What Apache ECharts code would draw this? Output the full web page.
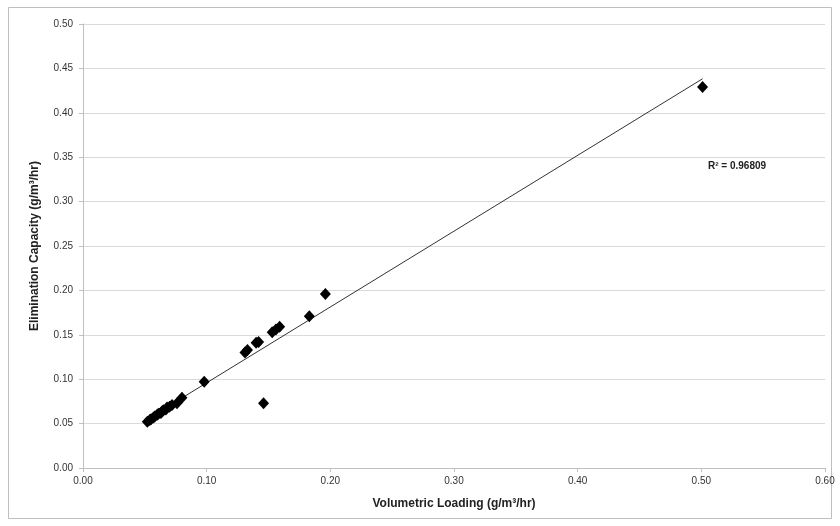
<!DOCTYPE html>
<html>
<head>
<meta charset="utf-8">
<script src="https://cdn.jsdelivr.net/npm/echarts@6/dist/echarts.min.js"></script>
<style>
  html, body { margin: 0; padding: 0; background: #fff; }
  #chart { width: 840px; height: 526px; }
</style>
</head>
<body>
<div id="chart"></div>
<script>
// volumetric loading (x) and elimination capacity (y), g/m3/hr
const loading = [
  0.052, 0.054, 0.055, 0.057, 0.058, 0.060, 0.061, 0.063, 0.064, 0.065,
  0.067, 0.068, 0.070, 0.072, 0.076, 0.080, 0.098, 0.131, 0.133, 0.140,
  0.142, 0.153, 0.156, 0.159, 0.146, 0.183, 0.196, 0.501
]
const capacity = [
  0.052, 0.054, 0.055, 0.057, 0.058, 0.060, 0.061, 0.062, 0.064, 0.065,
  0.066, 0.068, 0.069, 0.071, 0.073, 0.079, 0.097, 0.130, 0.133, 0.141,
  0.142, 0.153, 0.156, 0.159, 0.073, 0.171, 0.196, 0.429
]
const rSquaredText = 'R² = 0.96809'
const xTicks = [0, 0.6, 0.1]
const yTicks = [0, 0.5, 0.05]

const points = loading.map((x, i) => [x, capacity[i]])

// least squares trend line, like the spreadsheet one
const n = points.length
const mx = loading.reduce((a, b) => a + b, 0) / n
const my = capacity.reduce((a, b) => a + b, 0) / n
let sxy = 0, sxx = 0
points.forEach(p => {
  sxy += (p[0] - mx) * (p[1] - my)
  sxx += (p[0] - mx) * (p[0] - mx)
})
const slope = sxy / sxx
const intercept = my - slope * mx
const xMin = Math.min(...loading), xMax = Math.max(...loading)
const trend = [[xMin, intercept + slope * xMin], [xMax, intercept + slope * xMax]]

const chart = echarts.init(document.getElementById('chart'))
const font = 'Liberation Sans, sans-serif'

const option = {
  backgroundColor: '#fff',
  animation: false,
  grid: {
    left: 83,
    right: 15,
    top: 24,
    bottom: 58
  },
  graphic: [
    {
      type: 'rect',
      shape: { x: 8.5, y: 7.5, width: 823, height: 511 },
      style: { fill: 'none', stroke: '#bfbfbf', lineWidth: 1 },
      silent: true
    },
    {
      type: 'text',
      left: 708,
      top: 161,
      style: {
        text: rSquaredText,
        font: 'bold 10px ' + font,
        fill: '#222'
      }
    }
  ],
  xAxis: {
    type: 'value',
    min: xTicks[0],
    max: xTicks[1],
    interval: xTicks[2],
    name: 'Volumetric Loading (g/m³/hr)',
    nameLocation: 'middle',
    nameGap: 30,
    nameTextStyle: { fontFamily: font, fontWeight: 'bold', fontSize: 12, color: '#222' },
    axisLine: { show: true, lineStyle: { color: '#bfbfbf' } },
    axisTick: { show: true, length: 4, lineStyle: { color: '#bfbfbf' } },
    axisLabel: {
      fontFamily: font, fontSize: 10, color: '#333', margin: 8,
      formatter: v => v.toFixed(2)
    },
    splitLine: { show: false }
  },
  yAxis: {
    type: 'value',
    min: yTicks[0],
    max: yTicks[1],
    interval: yTicks[2],
    name: 'Elimination Capacity (g/m³/hr)',
    nameLocation: 'middle',
    nameGap: 42,
    nameTextStyle: { fontFamily: font, fontWeight: 'bold', fontSize: 12, color: '#222' },
    axisLine: { show: true, lineStyle: { color: '#bfbfbf' } },
    axisTick: { show: true, length: 4, lineStyle: { color: '#bfbfbf' } },
    axisLabel: {
      fontFamily: font, fontSize: 10, color: '#333', margin: 10,
      formatter: v => v.toFixed(2)
    },
    splitLine: { show: true, lineStyle: { color: '#d9d9d9', width: 1 } }
  },
  series: [
    {
      name: 'trend',
      type: 'line',
      data: trend,
      symbol: 'none',
      lineStyle: { color: '#333', width: 1 },
      z: 2
    },
    {
      name: 'data',
      type: 'scatter',
      data: points,
      symbol: 'diamond',
      symbolSize: [11, 12],
      itemStyle: { color: '#000', opacity: 1 },
      z: 3
    }
  ]
}

chart.setOption(option)
</script>
</body>
</html>
